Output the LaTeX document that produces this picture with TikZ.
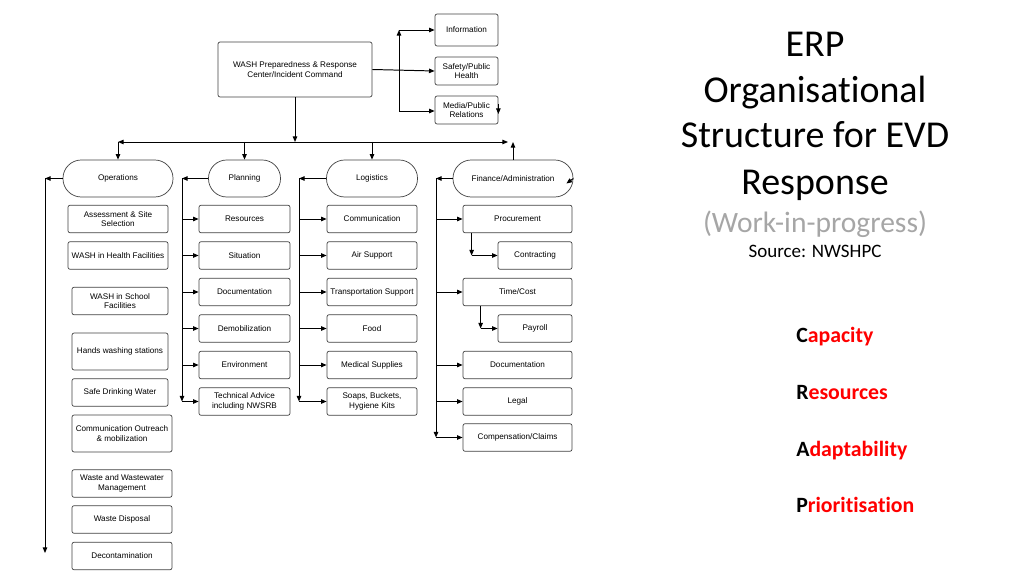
\documentclass[tikz,border=0pt]{standalone}
\usepackage{fontspec}
\setmainfont[Ligatures=NoCommon]{Carlito}
\newfontfamily\boxfont{Liberation Sans}
\usepackage{xcolor}
\usepackage{tikz}
\usetikzlibrary{positioning, arrows.meta}

\definecolor{wipgray}{RGB}{166,166,166}

\begin{document}
\begin{tikzpicture}[
        x=0.025cm, y=-0.025cm,
        font=\boxfont\fontsize{5.8}{6.8}\selectfont,
        unit/.style={draw=black!75, line width=0.5pt, rounded corners=1.5pt, align=center, inner sep=1pt, minimum height=0.69cm, minimum width=#1},
        unit/.default=2.5cm,
        head/.style={draw=black!75, line width=0.5pt, rounded corners=13pt, minimum height=0.925cm, minimum width=#1, align=center},
        arr/.style={-{Triangle[length=4pt, width=3.2pt]}, line width=0.7pt},
        ttl/.style={font=\rmfamily\fontsize{27}{32}\selectfont, anchor=base, inner sep=0pt},
        crap/.style={font=\rmfamily\bfseries\fontsize{15.5}{18}\selectfont, anchor=base west, inner sep=0pt},
    ]
    \useasboundingbox (0,0) rectangle (1024,576);

    % ---- Incident command ----
    \node[unit=3.85cm, minimum height=1.375cm] (cmd) at (295,69.5) {WASH Preparedness \& Response\\Center/Incident Command};
    \node[unit=1.575cm, minimum height=0.8cm] (info) at (466.5,30) {Information};
    \node[unit=1.575cm, minimum height=0.7cm] (safety) at (466.5,71) {Safety/Public\\Health};
    \node[unit=1.575cm, minimum height=0.7cm] (media) at (466.5,110) {Media/Public\\Relations};

    \coordinate (vtop) at (399,30);
    \coordinate (vbot) at (399,111);
    \draw[arr] (vbot) -- (vtop);
    \draw[arr] (vtop) -- (info.west);
    \draw[arr] (vbot) -- (media.west |- vbot);
    \draw[arr] (cmd.east) -- (safety.west);
    \draw[arr] (media.east) ++(0,-6) -- ++(0,10);

    % ---- Sections ----
    \node[head=2.75cm] (ops) at (118,178.5) {Operations};
    \node[head=1.8cm] (plan) at (244.5,178.5) {Planning};
    \node[head=2.275cm] (logi) at (372,178.5) {Logistics};
    \node[head=3.0cm] (fin) at (513,178.5) {Finance/Administration};

    \coordinate (bus) at (295,142);
    \coordinate (busL) at (118,142);
    \coordinate (busR) at (508,142);
    \draw[arr] (cmd.south) -- (bus);
    \draw[arr] (bus) -- (busR);
    \draw[arr] (bus) -- (busL);
    \draw[arr] (busL) -- (ops.north);
    \draw[arr] (plan.north |- bus) -- (plan.north);
    \draw[arr] (logi.north |- bus) -- (logi.north);
    \draw[arr] (fin.north) -- (fin.north |- bus);
    \draw[arr] (fin.east) -- ++(-7,5);

    % ---- Operations ----
    \node[unit] (assess) at (118,219) {Assessment \& Site\\Selection};
    \node[unit] (health) at (118,255.5) {WASH in Health Facilities};
    \node[unit=2.4cm] (school) at (120,301) {WASH in School\\Facilities};
    \node[unit=2.4cm, minimum height=0.925cm] (hands) at (120,351.5) {Hands washing stations};
    \node[unit=2.4cm] (water) at (120,392.5) {Safe Drinking Water};
    \node[unit, minimum height=0.925cm] (outreach) at (122,433.5) {Communication Outreach\\\& mobilization};
    \node[unit] (wastewater) at (122,483.5) {Waste and Wastewater\\Management};
    \node[unit] (disposal) at (122,519.5) {Waste Disposal};
    \node[unit] (decon) at (122,556) {Decontamination};

    \coordinate (opsL) at (45,178.5);
    \draw[arr] (ops.west) -- (opsL);
    \draw[arr] (opsL) -- (45,553) coordinate (opsB);

    % ---- Planning ----
    \node[unit=2.275cm] (resrc) at (244.5,219) {Resources};
    \node[unit=2.275cm] (situ) at (244.5,255.5) {Situation};
    \node[unit=2.275cm] (pdoc) at (244.5,292) {Documentation};
    \node[unit=2.275cm] (demob) at (244.5,328.5) {Demobilization};
    \node[unit=2.275cm] (env) at (244.5,365) {Environment};
    \node[unit=2.275cm] (tech) at (244.5,401.5) {Technical Advice\\including NWSRB};

    \coordinate (planL) at (182,178.5);
    \draw[arr] (plan.west) -- (planL);
    \draw[arr] (planL) -- (planL |- tech.west);
    \foreach \b in {resrc, situ, pdoc, demob, env, tech}
        \draw[arr] (planL |- \b.west) -- (\b.west);

    % ---- Logistics ----
    \node[unit=2.25cm] (comm) at (372,219) {Communication};
    \node[unit=2.25cm] (air) at (372,255.5) {Air Support};
    \node[unit=2.25cm] (transp) at (372,292) {Transportation Support};
    \node[unit=2.25cm] (food) at (372,328.5) {Food};
    \node[unit=2.25cm] (medsup) at (372,365) {Medical Supplies};
    \node[unit=2.25cm] (soaps) at (372,401.5) {Soaps, Buckets,\\Hygiene Kits};

    \coordinate (logiL) at (299,178.5);
    \draw[arr] (logi.west) -- (logiL);
    \draw[arr] (logiL) -- (logiL |- soaps.west);
    \foreach \b in {comm, air, transp, food, medsup, soaps}
        \draw[arr] (logiL |- \b.west) -- (\b.west);

    % ---- Finance/Administration ----
    \node[unit=2.725cm] (proc) at (517.5,219) {Procurement};
    \node[unit=1.85cm] (contr) at (535,255.5) {Contracting};
    \node[unit=2.725cm] (timec) at (517.5,292) {Time/Cost};
    \node[unit=1.85cm] (payroll) at (535,328.5) {Payroll};
    \node[unit=2.725cm] (fdoc) at (517.5,365) {Documentation};
    \node[unit=2.725cm] (legal) at (517.5,401.5) {Legal};
    \node[unit=2.725cm] (comp) at (517.5,437.5) {Compensation/Claims};

    \coordinate (finL) at (436,178.5);
    \draw[arr] (fin.west) -- (finL);
    \draw[arr] (finL) -- (finL |- comp.west);
    \foreach \b in {proc, timec, fdoc, legal, comp}
        \draw[arr] (finL |- \b.west) -- (\b.west);

    \path (proc.south west) ++(9,0) coordinate (pc);
    \draw[arr] (pc) -- (pc |- contr.west);
    \draw[arr] (pc |- contr.west) -- (contr.west);
    \path (timec.south west) ++(18,0) coordinate (tc);
    \draw[arr] (tc) -- (tc |- payroll.west);
    \draw[arr] (tc |- payroll.west) -- (payroll.west);

    % ---- Title ----
    \node[ttl] (t1) at (815,57) {ERP};
    \node[ttl] (t2) at (815,103) {Organisational};
    \node[ttl] (t3) at (815,148) {Structure for EVD};
    \node[ttl] (t4) at (815,195) {Response};
    \node[ttl, font=\rmfamily\fontsize{21}{25}\selectfont, text=wipgray] (t5) at (815,233) {(Work-in-progress)};
    \node[ttl, font=\rmfamily\fontsize{13.5}{16}\selectfont] (t6) at (815,258) {Source: NWSHPC};

    % ---- CRAP ----
    \node[crap] (c1) at (796,343) {C\textcolor{red}{apacity}};
    \node[crap] (c2) at (796,399) {R\textcolor{red}{esources}};
    \node[crap] (c3) at (796,456) {A\textcolor{red}{daptability}};
    \node[crap] (c4) at (796,512) {P\textcolor{red}{rioritisation}};
\end{tikzpicture}
\end{document}
